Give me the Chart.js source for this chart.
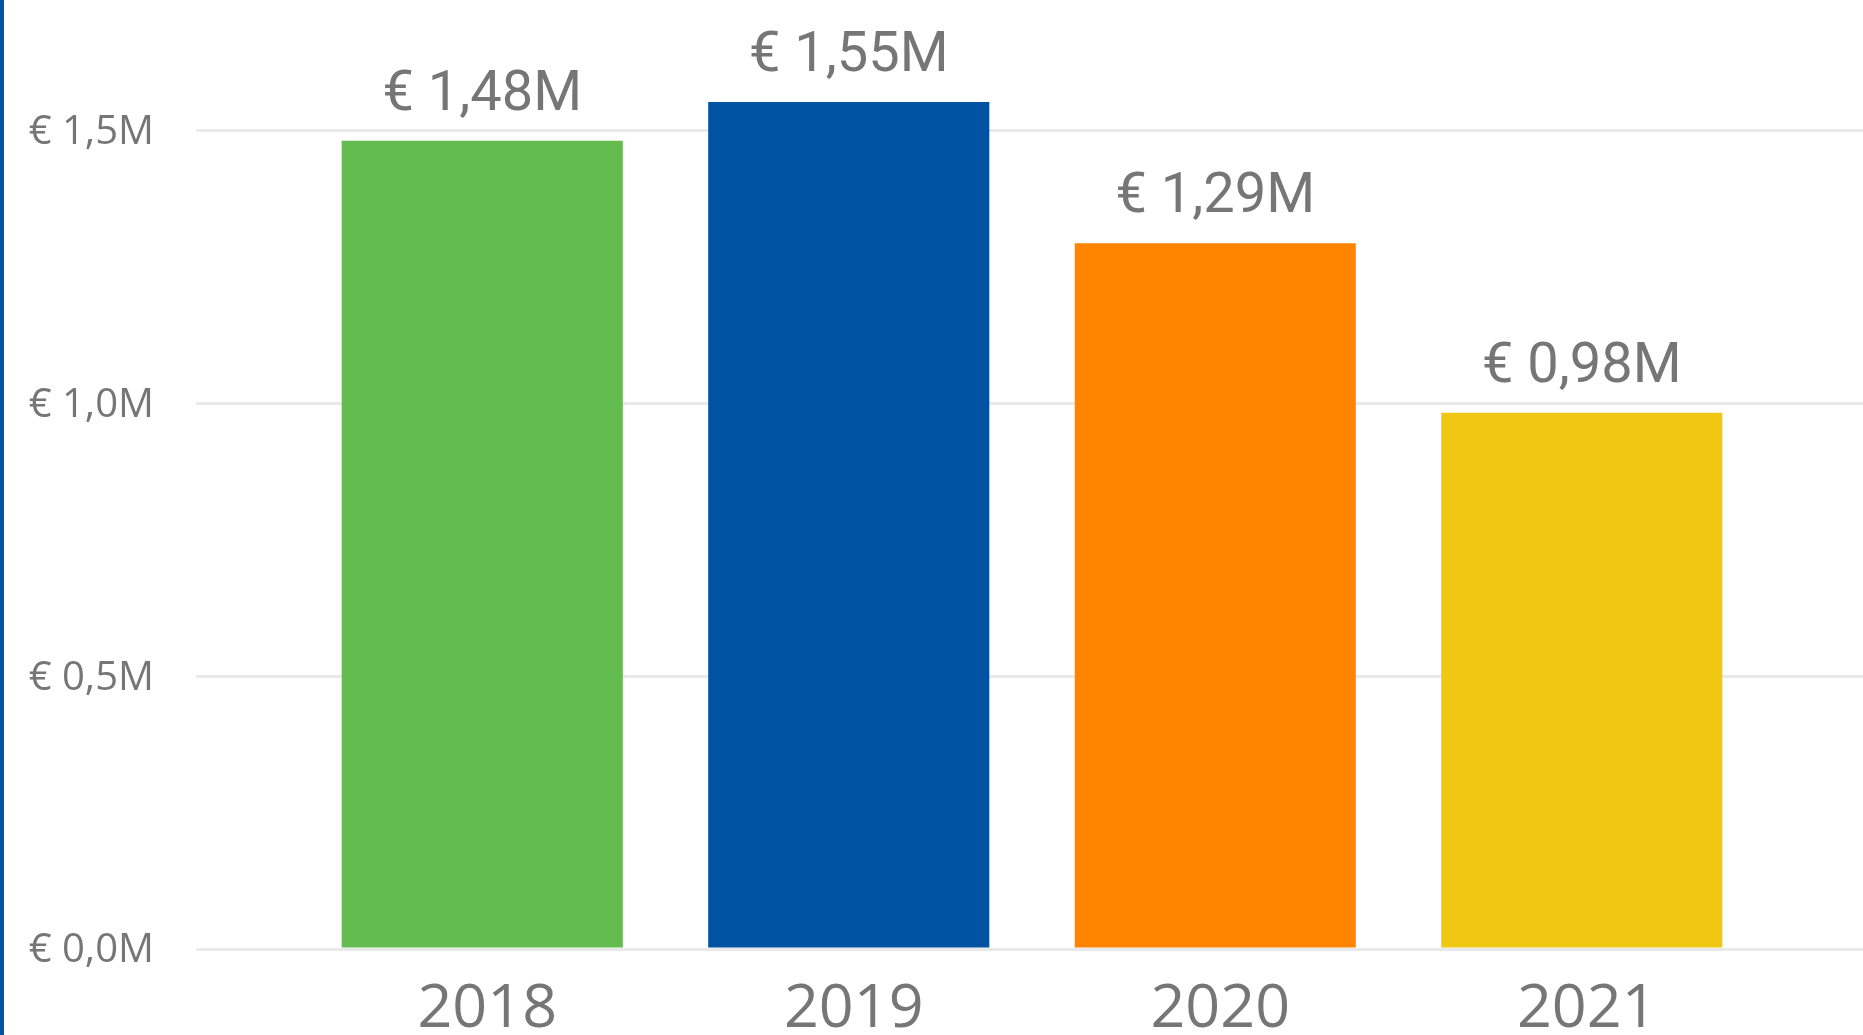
<!DOCTYPE html>
<html>
<head>
<meta charset="utf-8">
<script src="https://cdn.jsdelivr.net/npm/chart.js@4.4.1/dist/chart.umd.min.js"></script>
<style>
  html, body { margin: 0; padding: 0; background: #ffffff; overflow: hidden; }
  #wrap { position: relative; width: 1863px; height: 1035px; }
  #edge { position: absolute; left: 0; top: 0; width: 4px; height: 1035px; background: #0052a5; z-index: 2; }
  canvas { display: block; }
</style>
</head>
<body>
<div id="wrap">
  <div id="edge"></div>
  <canvas id="c" width="1863" height="1035"></canvas>
</div>
<script>
const categories = ['2018', '2019', '2020', '2021'];
const revenueMillions = [1.482, 1.553, 1.294, 0.983];
const barColors = ['#64bb4f', '#0053a3', '#ff8500', '#f0c712'];
const yTickValues = [0, 0.5, 1.0, 1.5];

const fmtAxis = v => '€ ' + v.toFixed(1).replace('.', ',') + 'M';
const fmtLabel = v => '€ ' + v.toFixed(2).replace('.', ',') + 'M';

const gridColor = '#e9e9e9';
const textGray = '#767676';

const dataLabels = {
  id: 'dataLabels',
  afterDatasetsDraw(chart) {
    const ctx = chart.ctx;
    const meta = chart.getDatasetMeta(0);
    ctx.save();
    ctx.font = '400 56px Roboto';
    ctx.fillStyle = textGray;
    ctx.textAlign = 'center';
    ctx.textBaseline = 'alphabetic';
    meta.data.forEach((bar, i) => {
      ctx.fillText(fmtLabel(revenueMillions[i]), bar.x, bar.y - 31);
    });
    ctx.restore();
  }
};

const keepTicks = scale => {
  scale.ticks = yTickValues.map(v => ({ value: v }));
};
const noPad = s => { s.paddingTop = 0; s.paddingBottom = 0; s.paddingLeft = 0; s.paddingRight = 0; };

function draw() {
  new Chart(document.getElementById('c'), {
    type: 'bar',
    data: {
      labels: categories,
      datasets: [{
        data: revenueMillions,
        backgroundColor: barColors,
        borderWidth: 0,
        categoryPercentage: 1.0,
        barPercentage: 0.767
      }]
    },
    options: {
      responsive: false,
      animation: false,
      events: [],
      layout: { padding: 0 },
      plugins: { legend: { display: false }, tooltip: { enabled: false } },
      scales: {
        x: {
          grid: { display: false, drawTicks: false },
          border: { display: false },
          ticks: {
            color: textGray,
            font: { family: 'Open Sans', size: 61 },
            padding: 24,
            labelOffset: 5,
            maxRotation: 0
          },
          afterFit: s => { s.height = 86; noPad(s); }
        },
        y: {
          position: 'left',
          min: 0,
          max: 1.74,
          afterBuildTicks: keepTicks,
          grid: { color: gridColor, lineWidth: 3, drawTicks: true, tickLength: 103, tickColor: gridColor, tickWidth: 3 },
          border: { display: false },
          ticks: {
            color: textGray,
            font: { family: 'Open Sans', size: 40 },
            padding: 42,
            labelOffset: 2,
            callback: v => fmtAxis(v)
          },
          afterFit: s => { s.width = 299; noPad(s); }
        },
        y2: {
          position: 'right',
          min: 0,
          max: 1.74,
          afterBuildTicks: keepTicks,
          grid: { drawOnChartArea: false, drawTicks: true, tickLength: 98, tickColor: gridColor, tickWidth: 3, color: gridColor, lineWidth: 3 },
          border: { display: false },
          ticks: { display: false },
          afterFit: s => { s.width = 98; noPad(s); }
        }
      }
    },
    plugins: [dataLabels]
  });
}

Promise.all([
  document.fonts.load('400 56px Roboto'),
  document.fonts.load('61px "Open Sans"'),
  document.fonts.load('40px "Open Sans"')
]).then(draw, draw);
</script>
</body>
</html>
